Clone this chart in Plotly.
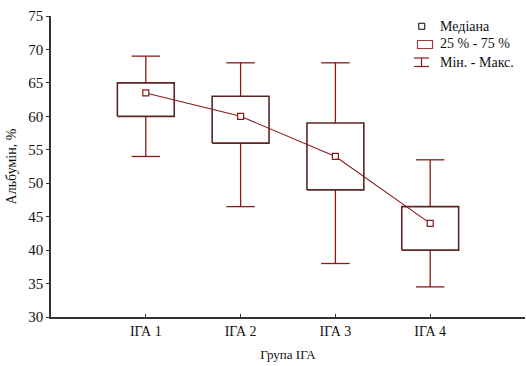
import plotly.graph_objects as go

# Albumin by IgA group: quartiles, median and range
groups = ["ІГА 1", "ІГА 2", "ІГА 3", "ІГА 4"]
mins = [54, 46.5, 38, 34.5]
q1 = [60, 56, 49, 40]
medians = [63.5, 60, 54, 44]
q3 = [65, 63, 59, 46.5]
maxs = [69, 68, 68, 53.5]

WHISKER = "#8b1a1a"
BOX = "#5a2626"
FONT = "Liberation Serif"

pos = list(range(len(groups)))
box_half = 0.3
cap_half = 0.15

fig = go.Figure()

# whiskers and caps
wx, wy = [], []
for i, lo, a, b, hi in zip(pos, mins, q1, q3, maxs):
    wx += [i, i, None, i, i, None,
           i - cap_half, i + cap_half, None, i - cap_half, i + cap_half, None]
    wy += [lo, a, None, b, hi, None, lo, lo, None, hi, hi, None]
fig.add_trace(go.Scatter(x=wx, y=wy, mode="lines",
                         line=dict(color=WHISKER, width=1.3),
                         showlegend=False, hoverinfo="skip"))

# interquartile boxes
for i, a, b in zip(pos, q1, q3):
    fig.add_trace(go.Scatter(
        x=[i - box_half, i + box_half, i + box_half, i - box_half, i - box_half],
        y=[a, a, b, b, a], mode="lines", fill="toself", fillcolor="white",
        line=dict(color=BOX, width=1.6), showlegend=False, hoverinfo="skip"))

# medians joined by a line
fig.add_trace(go.Scatter(x=pos, y=medians, mode="lines+markers",
                         line=dict(color=WHISKER, width=1.1),
                         marker=dict(symbol="square", size=6, color="white",
                                     line=dict(color=WHISKER, width=1.2)),
                         showlegend=False))

W, H = 526, 366
L, R, T, B = 51, 1, 16, 49
pw, ph = W - L - R, H - T - B


def px(x):
    return (x - L) / pw


def py(y):
    return 1 - (y - T) / ph


# legend glyphs on a hidden pixel-scaled overlay axis pair
fig.add_trace(go.Scatter(x=[421.75], y=[26.25], mode="markers", xaxis="x2", yaxis="y2",
                         marker=dict(symbol="square", size=6, color="white",
                                     line=dict(color="black", width=1)),
                         showlegend=False, hoverinfo="skip"))
fig.add_trace(go.Scatter(x=[417.5, 432.5, 432.5, 417.5, 417.5],
                         y=[40.5, 40.5, 48.5, 48.5, 40.5], mode="lines",
                         xaxis="x2", yaxis="y2",
                         line=dict(color="#9b3a3a", width=1.2),
                         showlegend=False, hoverinfo="skip"))
fig.add_trace(go.Scatter(x=[414, 429, None, 414, 429, None, 421.5, 421.5],
                         y=[58, 58, None, 66.5, 66.5, None, 58, 66.5], mode="lines",
                         xaxis="x2", yaxis="y2",
                         line=dict(color=WHISKER, width=1.2),
                         showlegend=False, hoverinfo="skip"))

legend_labels = ["Медіана", "25 % - 75 %", "Мін. - Макс."]
legend_y = [26, 44, 62]
annotations = [
    dict(text=t, xref="paper", yref="paper", x=px(438), y=py(yy),
         xanchor="left", yanchor="middle", showarrow=False,
         font=dict(family=FONT, size=14, color="#111"))
    for t, yy in zip(legend_labels, legend_y)
]

fig.update_layout(
    width=W, height=H,
    margin=dict(l=L, r=R, t=T, b=B),
    paper_bgcolor="white", plot_bgcolor="white",
    font=dict(family=FONT, size=14, color="#111"),
    annotations=annotations,
    showlegend=False,
    xaxis2=dict(overlaying="x", range=[L, W - R], visible=False, fixedrange=True),
    yaxis2=dict(overlaying="y", range=[H - B, T], visible=False, fixedrange=True),
)
fig.update_xaxes(
    selector=dict(overlaying=None),
)
fig.layout.xaxis.update(
    range=[-1, 4], tickmode="array", tickvals=pos, ticktext=groups,
    showgrid=False, zeroline=False, showline=True, linecolor="#333",
    linewidth=1.5, ticks="inside", ticklen=3, tickcolor="#333",
    tickfont=dict(family=FONT, size=14),
    title=dict(text="Група ІГА", font=dict(family=FONT, size=13), standoff=12),
)
fig.layout.yaxis.update(
    range=[30, 75], tickvals=[30, 35, 40, 45, 50, 55, 60, 65, 70, 75],
    showgrid=False, zeroline=False, showline=True, linecolor="#333",
    linewidth=1.5, ticks="outside", ticklen=3, tickcolor="#333",
    tickfont=dict(family=FONT, size=15),
    title=dict(text="Альбумін, %", font=dict(family=FONT, size=14), standoff=8),
)

fig.write_html("out.html")
